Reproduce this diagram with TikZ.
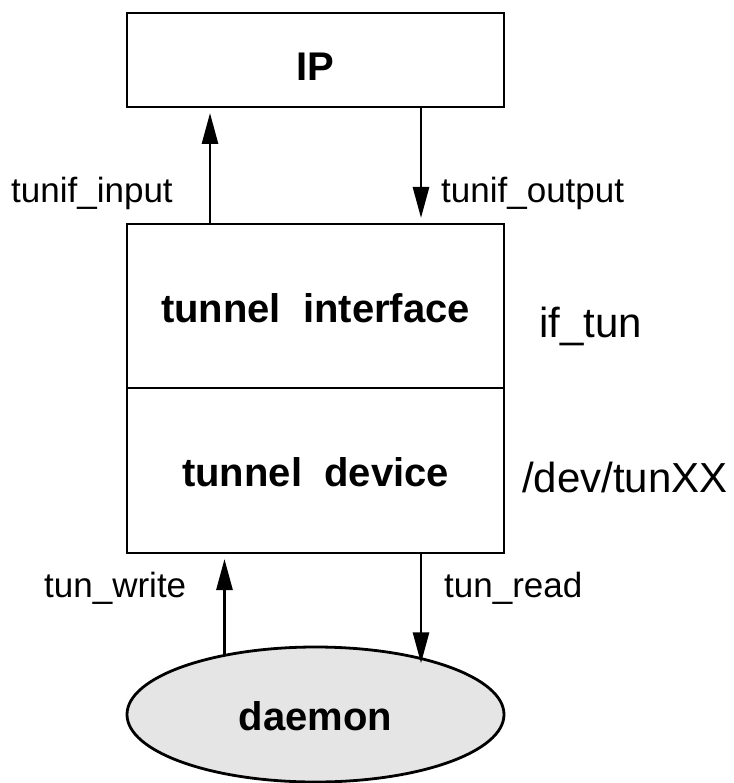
\documentclass[tikz,border=0pt]{standalone}
\usepackage{fontspec}
\setmainfont{Liberation Sans}
\usepackage{tikz}
\usetikzlibrary{shapes.geometric,positioning,arrows.meta}
\tikzstyle{layer}=  [draw,
rectangle,
line width=2.8pt,
outer sep=0pt,
minimum width=377pt,
font=\fontsize{40}{48}\selectfont\bfseries,
]
\tikzstyle{proc}=   [draw,
ellipse,
line width=2.8pt,
outer sep=0pt,
fill=gray!20,
minimum width=377pt,
minimum height=135pt,
font=\fontsize{40}{48}\selectfont\bfseries,
]
\tikzstyle{call}=   [inner sep=0pt,
anchor=base west,
font=\fontsize{35}{42}\selectfont,
]
\tikzstyle{side}=   [inner sep=0pt,
anchor=base west,
font=\fontsize{42}{50}\selectfont,
]
\tikzstyle{arr}=    [-{Triangle[length=31pt,width=16pt]},
line width=2.8pt,
]

\begin{document}
\begin{tikzpicture}[x=1pt, y=1pt]
        \useasboundingbox (0,0) rectangle (733,-783);
        \node[layer, minimum height=94pt, text height=42pt, text depth=0pt] (ip) at (315.5,-60) {IP};
        \node[layer, below=117pt of ip, minimum height=164pt, text height=32pt, text depth=0pt] (iface) {tunnel\ \ interface};
        \node[layer, below=0pt of iface, minimum height=165pt, text height=32pt, text depth=0pt] (dev) {tunnel\ \ device};
        \node[proc, below=94pt of dev, text height=32pt, text depth=0pt] (daemon) {daemon};

        \node[call] (lbl_in) at (11,-203) {tunif\_input};
        \node[call] (lbl_out) at (441,-203) {tunif\_output};
        \node[call] (lbl_write) at (44,-597) {tun\_write};
        \node[call] (lbl_read) at (444,-597) {tun\_read};
        \node[side] (lbl_if) at (539,-337) {if\_tun};
        \node[side] (lbl_dev) at (522,-492) {/dev/tunXX};

        \coordinate (wr) at (daemon.147.9);
        \coordinate (rd) at ([xshift=105.5pt]dev.south);

        \draw[arr, shorten >=6pt] ([xshift=-105.5pt]iface.north) -- ([xshift=-105.5pt]ip.south);
        \draw[arr, shorten >=6pt] ([xshift=105.5pt]ip.south) -- ([xshift=105.5pt]iface.north);
        \draw[arr, shorten >=6pt] (wr) -- (wr |- dev.south);
        \draw[arr, shorten >=-4pt] (rd) -- (rd |- daemon.27.9);
    \end{tikzpicture}
\end{document}
